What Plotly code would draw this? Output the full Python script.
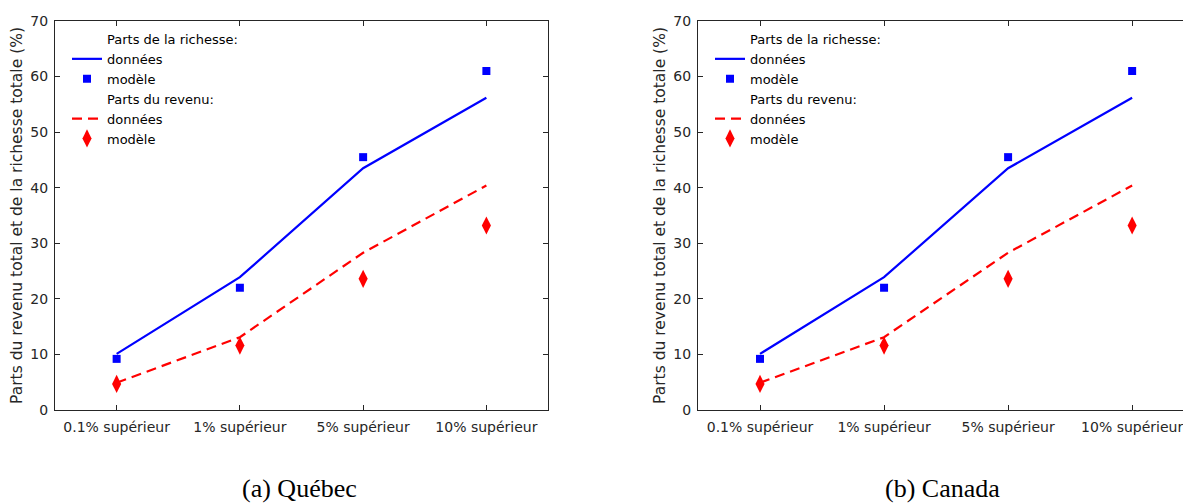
import plotly.graph_objects as go

# Categories (top income / wealth groups)
categories = ["0.1% supérieur", "1% supérieur", "5% supérieur", "10% supérieur"]

# Wealth shares (%): data and model
wealth_data = [10.1, 23.9, 43.5, 56.2]
wealth_model = [9.2, 22.0, 45.5, 61.0]

# Income shares (%): data and model
income_data = [4.9, 13.1, 28.3, 40.4]
income_model = [4.7, 11.6, 23.6, 33.2]

y_ticks = [0, 10, 20, 30, 40, 50, 60, 70]

panels = [
    {"title": "(a) Québec", "xaxis": "x", "yaxis": "y", "legend": "legend"},
    {"title": "(b) Canada", "xaxis": "x2", "yaxis": "y2", "legend": "legend2"},
]

AX = "#262626"
FONT = "DejaVu Sans, Arial, sans-serif"
SERIF = "Liberation Serif, Times New Roman, serif"
xpos = list(range(len(categories)))

fig = go.Figure()

for p in panels:
    common = dict(xaxis=p["xaxis"], yaxis=p["yaxis"], legend=p["legend"])
    # header entry for wealth shares
    fig.add_trace(go.Scatter(x=[None], y=[None], mode="markers",
                             marker=dict(color="rgba(0,0,0,0)", size=1),
                             name="Parts de la richesse:", **common))
    fig.add_trace(go.Scatter(x=xpos, y=wealth_data, mode="lines",
                             line=dict(color="#0000ff", width=2.2),
                             name="données", **common))
    fig.add_trace(go.Scatter(x=xpos, y=wealth_model, mode="markers",
                             marker=dict(color="#0000ff", symbol="square", size=8),
                             name="modèle", **common))
    # header entry for income shares
    fig.add_trace(go.Scatter(x=[None], y=[None], mode="markers",
                             marker=dict(color="rgba(0,0,0,0)", size=1),
                             name="Parts du revenu:", **common))
    fig.add_trace(go.Scatter(x=xpos, y=income_data, mode="lines",
                             line=dict(color="#ff0000", width=2.2, dash="10px,6px"),
                             name="données", **common))
    fig.add_trace(go.Scatter(x=xpos, y=income_model, mode="markers",
                             marker=dict(color="#ff0000", symbol="diamond-tall", size=13),
                             name="modèle", **common))

W, H = 1183, 504
ydom = [(H - 410) / H, (H - 21) / H]

xaxis_common = dict(
    tickmode="array", tickvals=xpos, ticktext=categories,
    ticks="inside", ticklen=5, tickcolor=AX, tickwidth=1,
    showline=True, linecolor=AX, linewidth=1,
    showgrid=False, zeroline=False, automargin=False,
    ticklabeloverflow="allow", ticklabelstandoff=4,
    tickfont=dict(family=FONT, size=14, color=AX),
)
yaxis_common = dict(
    range=[0, 70], tickmode="array", tickvals=y_ticks,
    ticks="inside", ticklen=5, tickcolor=AX, tickwidth=1,
    showline=True, linecolor=AX, linewidth=1,
    showgrid=False, zeroline=False, automargin=False,
    ticklabelstandoff=3,
    tickfont=dict(family=FONT, size=14, color=AX),
    title=dict(text="Parts du revenu total et de la richesse totale (%)",
               font=dict(family=FONT, size=15.5, color=AX), standoff=3),
)

legend_common = dict(
    bgcolor="rgba(255,255,255,0)", borderwidth=0,
    font=dict(family=FONT, size=13, color="#000000"),
    tracegroupgap=0, itemwidth=30,
    xanchor="left", yanchor="top",
)

caption_font = dict(family=SERIF, size=26, color="#000")

fig.update_layout(
    template="none",
    width=W, height=H,
    margin=dict(l=0, r=0, t=0, b=0, autoexpand=False),
    plot_bgcolor="white", paper_bgcolor="white",
    showlegend=True,
    xaxis=dict(domain=[55 / W, 548 / W], range=[-0.5, 3.5], mirror="ticks", **xaxis_common),
    yaxis=dict(domain=ydom, mirror="ticks", **yaxis_common),
    xaxis2=dict(domain=[698 / W, 1.0], range=[-0.5, 3.41], mirror="ticks", anchor="y2", **xaxis_common),
    yaxis2=dict(domain=ydom, mirror=False, anchor="x2", **yaxis_common),
    legend=dict(x=67 / W, y=(H - 24) / H, **legend_common),
    legend2=dict(x=710 / W, y=(H - 24) / H, **legend_common),
    annotations=[
        dict(text=panels[0]["title"], x=299 / W, y=(H - 488) / H, xref="paper", yref="paper",
             xanchor="center", yanchor="middle", showarrow=False, font=caption_font),
        dict(text=panels[1]["title"], x=942 / W, y=(H - 488) / H, xref="paper", yref="paper",
             xanchor="center", yanchor="middle", showarrow=False, font=caption_font),
    ],
)

fig.write_html("out.html")
